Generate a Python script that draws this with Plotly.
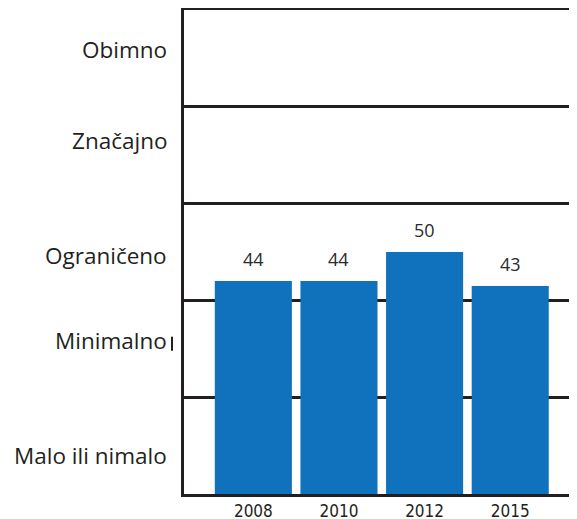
import plotly.graph_objects as go

years = ["2008", "2010", "2012", "2015"]
values = [44, 44, 50, 43]
level_labels = ["Malo ili nimalo", "Minimalno", "Ograničeno", "Značajno", "Obimno"]
level_positions = [8.0, 31.8, 49.3, 73.1, 91.8]
grid_values = [0, 20, 40, 60, 80, 100]

LINE = "#231f20"
BAR = "#1071bc"

fig = go.Figure()
fig.add_trace(go.Bar(
    x=years, y=values, marker=dict(color=BAR, line=dict(width=0)),
    hoverinfo="skip",
))

annotations = []
for i, v in enumerate(values):
    annotations.append(dict(
        x=i, y=v, xref="x", yref="y", text=str(v), showarrow=False,
        yanchor="bottom", yshift=8,
        font=dict(family="Open Sans", size=18, color="#2b2b2b"),
    ))
for lab, pos in zip(level_labels, level_positions):
    annotations.append(dict(
        x=0, y=pos, xref="paper", yref="y", text=lab, showarrow=False,
        xanchor="right", yanchor="middle", xshift=-15,
        font=dict(family="Open Sans", size=22.5, color="#231f20"),
    ))

# small stray cursor-like stroke next to "Minimalno" in the original
shapes = [dict(type="line", xref="paper", yref="y",
               x0=-0.0305, x1=-0.0305, y0=29.6, y1=32.5,
               line=dict(color=LINE, width=2))]

fig.update_layout(
    width=569, height=511,
    margin=dict(l=176, r=0, t=2, b=25, autoexpand=False),
    paper_bgcolor="white", plot_bgcolor="white",
    showlegend=False, bargap=0.1,
    annotations=annotations, shapes=shapes,
    xaxis=dict(
        type="category", range=[-0.81, 3.78], automargin=False,
        showline=True, linecolor=LINE, linewidth=2.5, mirror=True,
        showgrid=False, ticks="", fixedrange=True,
        tickfont=dict(family="Liberation Sans Narrow, DejaVu Sans Condensed, Arial Narrow, sans-serif", size=17, color=LINE),
    ),
    yaxis=dict(
        range=[0, 100], tickvals=grid_values, ticktext=[""] * len(grid_values),
        showgrid=True, gridcolor=LINE, gridwidth=2.5, zeroline=False, automargin=False,
        showline=True, linecolor=LINE, linewidth=2.5, ticks="", fixedrange=True,
    ),
)

fig.write_html("out.html")
